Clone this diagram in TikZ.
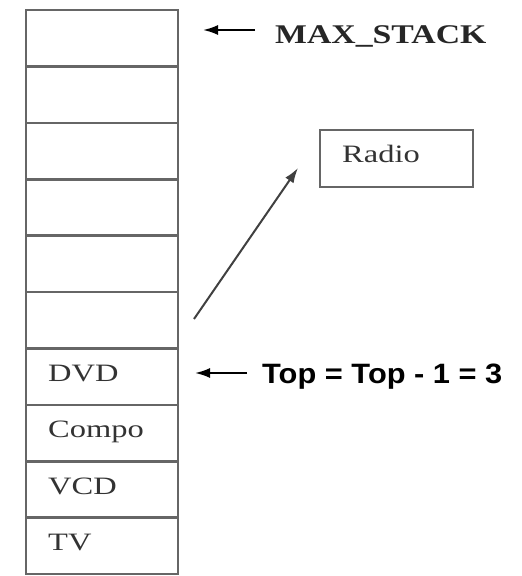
\documentclass[tikz,border=0pt]{standalone}
\usepackage{fontspec}
\setmainfont{Liberation Serif}
\newfontfamily\arialfont{Liberation Sans}
\usetikzlibrary{arrows.meta}

\begin{document}
\begin{tikzpicture}[x=1pt,y=-1pt,
  cell/.style={draw=black!60, line width=2.6pt, minimum width=152pt,
    minimum height=56.4pt, anchor=north west, inner sep=0pt, outer sep=0pt},
  lbl/.style={anchor=base west, inner sep=0pt,
    font=\fontsize{25}{30}\selectfont, text=black!80},
  ptr/.style={-{Latex[length=15pt,width=10pt]}, line width=2pt, black}]
\useasboundingbox (0,0) rectangle (522,576);

% stack cells, top to bottom
\foreach \i in {0,...,9}
  \node[cell] (c\i) at (26,{10+56.4*\i}) {};

% stored items
\node[lbl] (dvd)   at ([shift={(22pt,-33pt)}]c6.north west) {\scalebox{1.3}[1]{DVD}};
\node[lbl] (compo) at ([shift={(22pt,-33pt)}]c7.north west) {\scalebox{1.3}[1]{Compo}};
\node[lbl] (vcd)   at ([shift={(22pt,-33pt)}]c8.north west) {\scalebox{1.3}[1]{VCD}};
\node[lbl] (tv)    at ([shift={(22pt,-33pt)}]c9.north west) {\scalebox{1.3}[1]{TV}};

% popped item
\node[draw=black!60, line width=2.6pt, minimum width=153pt, minimum height=57pt,
  inner sep=0pt] (radio) at (396.5,158.5) {};
\node[lbl] (radiotxt) at (342,162) {\scalebox{1.3}[1]{Radio}};

% labels
\node[anchor=base west, inner sep=0pt, font=\fontsize{27}{32}\selectfont\bfseries,
  text=black!85] (maxlbl) at (275,43) {\scalebox{1.25}[1]{MAX\_STACK}};
\node[anchor=base west, inner sep=0pt, font=\arialfont\fontsize{28}{34}\selectfont\bfseries]
  (toplbl) at (262,383) {\scalebox{1.1}[1]{Top = Top - 1 = 3}};

% pointer arrows
\coordinate (ma) at (255,30);
\coordinate (mb) at (203,30);
\coordinate (ta) at (247,373);
\coordinate (tb) at (195,373);
\coordinate (da) at (194,319);
\coordinate (db) at (298,168);
\draw[ptr] (ma) -- (mb);
\draw[ptr] (ta) -- (tb);
\draw[ptr, black!75] (da) -- (db);
\end{tikzpicture}
\end{document}
